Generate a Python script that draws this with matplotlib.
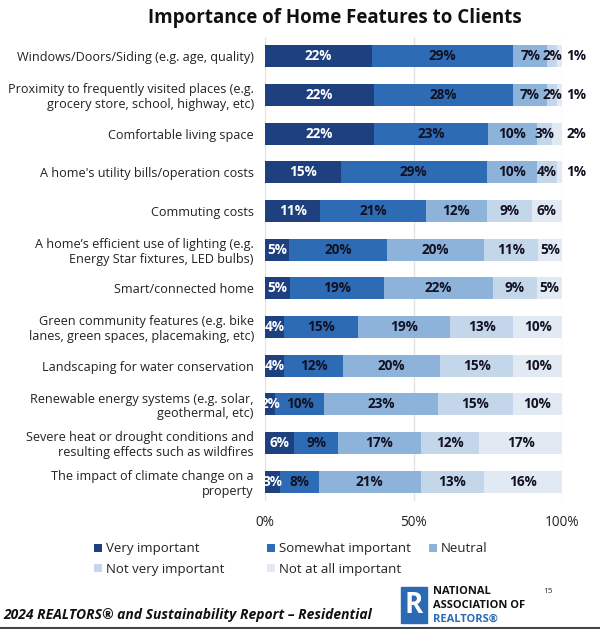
import matplotlib
matplotlib.use("Agg")
import matplotlib.pyplot as plt
from matplotlib.patches import Rectangle
import numpy as np

plt.rcParams['font.family'] = ['Open Sans', 'DejaVu Sans']

categories = [
    "Windows/Doors/Siding (e.g. age, quality)",
    "Proximity to frequently visited places (e.g.\ngrocery store, school, highway, etc)",
    "Comfortable living space",
    "A home's utility bills/operation costs",
    "Commuting costs",
    "A home\u2019s efficient use of lighting (e.g.\nEnergy Star fixtures, LED bulbs)",
    "Smart/connected home",
    "Green community features (e.g. bike\nlanes, green spaces, placemaking, etc)",
    "Landscaping for water conservation",
    "Renewable energy systems (e.g. solar,\ngeothermal, etc)",
    "Severe heat or drought conditions and\nresulting effects such as wildfires",
    "The impact of climate change on a\nproperty",
]
series_names = ["Very important", "Somewhat important", "Neutral",
                "Not very important", "Not at all important"]
very = [22, 22, 22, 15, 11, 5, 5, 4, 4, 2, 6, 3]
somewhat = [29, 28, 23, 29, 21, 20, 19, 15, 12, 10, 9, 8]
neutral = [7, 7, 10, 10, 12, 20, 22, 19, 20, 23, 17, 21]
not_very = [2, 2, 3, 4, 9, 11, 9, 13, 15, 15, 12, 13]
not_at_all = [1, 1, 2, 1, 6, 5, 5, 10, 10, 10, 17, 16]

colors = ['#1e407e', '#2e6bb5', '#8db3da', '#c4d6e9', '#e1e9f3']
text_colors = ['white', '#111122', '#111122', '#111122', '#111122']


def main():
    data = np.array([very, somewhat, neutral, not_very, not_at_all], dtype=float)
    totals = data.sum(axis=0)
    shares = data / totals  # bars are stretched to 100%

    fig = plt.figure(figsize=(6.0, 6.29), dpi=100)
    ax = fig.add_axes([0.4417, 0.2035, 0.495, 0.7377])

    y = np.arange(len(categories))
    left = np.zeros(len(categories))
    handles = []
    for i, name in enumerate(series_names):
        h = ax.barh(y, shares[i], left=left, height=0.57, color=colors[i], label=name, zorder=2)
        handles.append(h)
        for j in range(len(categories)):
            xc = left[j] + shares[i][j] / 2
            if i == 4 and data[i][j] <= 2:
                xc = 1.047
            ax.text(xc, y[j], "%d%%" % data[i][j], ha='center', va='center',
                    fontsize=9.8, fontweight='bold', color=text_colors[i], zorder=3)
        left += shares[i]

    ax.set_xlim(0, 1)
    ax.set_ylim(len(categories) - 0.5, -0.5)
    ax.set_xticks([0, 0.5, 1.0])
    ax.set_xticklabels(["0%", "50%", "100%"], fontsize=9.8, color='#222222')
    ax.set_yticks(y)
    ax.set_yticklabels(categories, fontsize=9.1, color='#222222', linespacing=1.15)
    ax.tick_params(length=0, pad=8)
    ax.tick_params(axis='x', pad=10)
    for s in ax.spines.values():
        s.set_visible(False)
    ax.grid(axis='x', color='#e3e3e3', linewidth=1, zorder=0)

    fig.text(0.558, 0.972, "Importance of Home Features to Clients", ha='center', va='center',
             fontsize=13.5, fontweight='bold', color='#111111')

    # legend laid out row by row, one legend per column
    legend_cols = [([0, 3], 0.148), ([1, 4], 0.436), ([2], 0.706)]
    for idx, xpos in legend_cols:
        leg = fig.legend([handles[k] for k in idx], [series_names[k] for k in idx],
                         loc='upper left', bbox_to_anchor=(xpos, 0.146), frameon=False,
                         fontsize=9.5, handlelength=0.6, handleheight=0.6,
                         handletextpad=0.3, labelspacing=0.55, borderaxespad=0)
        for t in leg.get_texts():
            t.set_color('#222222')

    fig.text(0.005, 0.022, "2024 REALTORS\u00ae and Sustainability Report \u2013 Residential",
             fontsize=10, fontweight='bold', style='italic', color='#111111', va='center')

    # NAR logo
    fig.patches.append(Rectangle((0.668, 0.01), 0.043, 0.056, transform=fig.transFigure,
                                 color='#2a6ab5', zorder=5))
    fig.text(0.6895, 0.038, "R", fontsize=20, fontweight='bold', color='white',
             ha='center', va='center', zorder=6)
    fig.text(0.722, 0.06, "NATIONAL", fontsize=8, fontweight='bold', color='#111111', va='center')
    fig.text(0.722, 0.038, "ASSOCIATION OF", fontsize=8, fontweight='bold', color='#111111', va='center')
    fig.text(0.722, 0.016, "REALTORS\u00ae", fontsize=8, fontweight='bold', color='#2a6ab5', va='center')
    fig.text(0.905, 0.06, "15", fontsize=6, color='#333333', va='center')

    fig.add_artist(plt.Line2D([0, 1], [0.002, 0.002], transform=fig.transFigure,
                              color='#444444', linewidth=1.5))

    fig.savefig("out.png", dpi=100)


if __name__ == "__main__":
    main()
